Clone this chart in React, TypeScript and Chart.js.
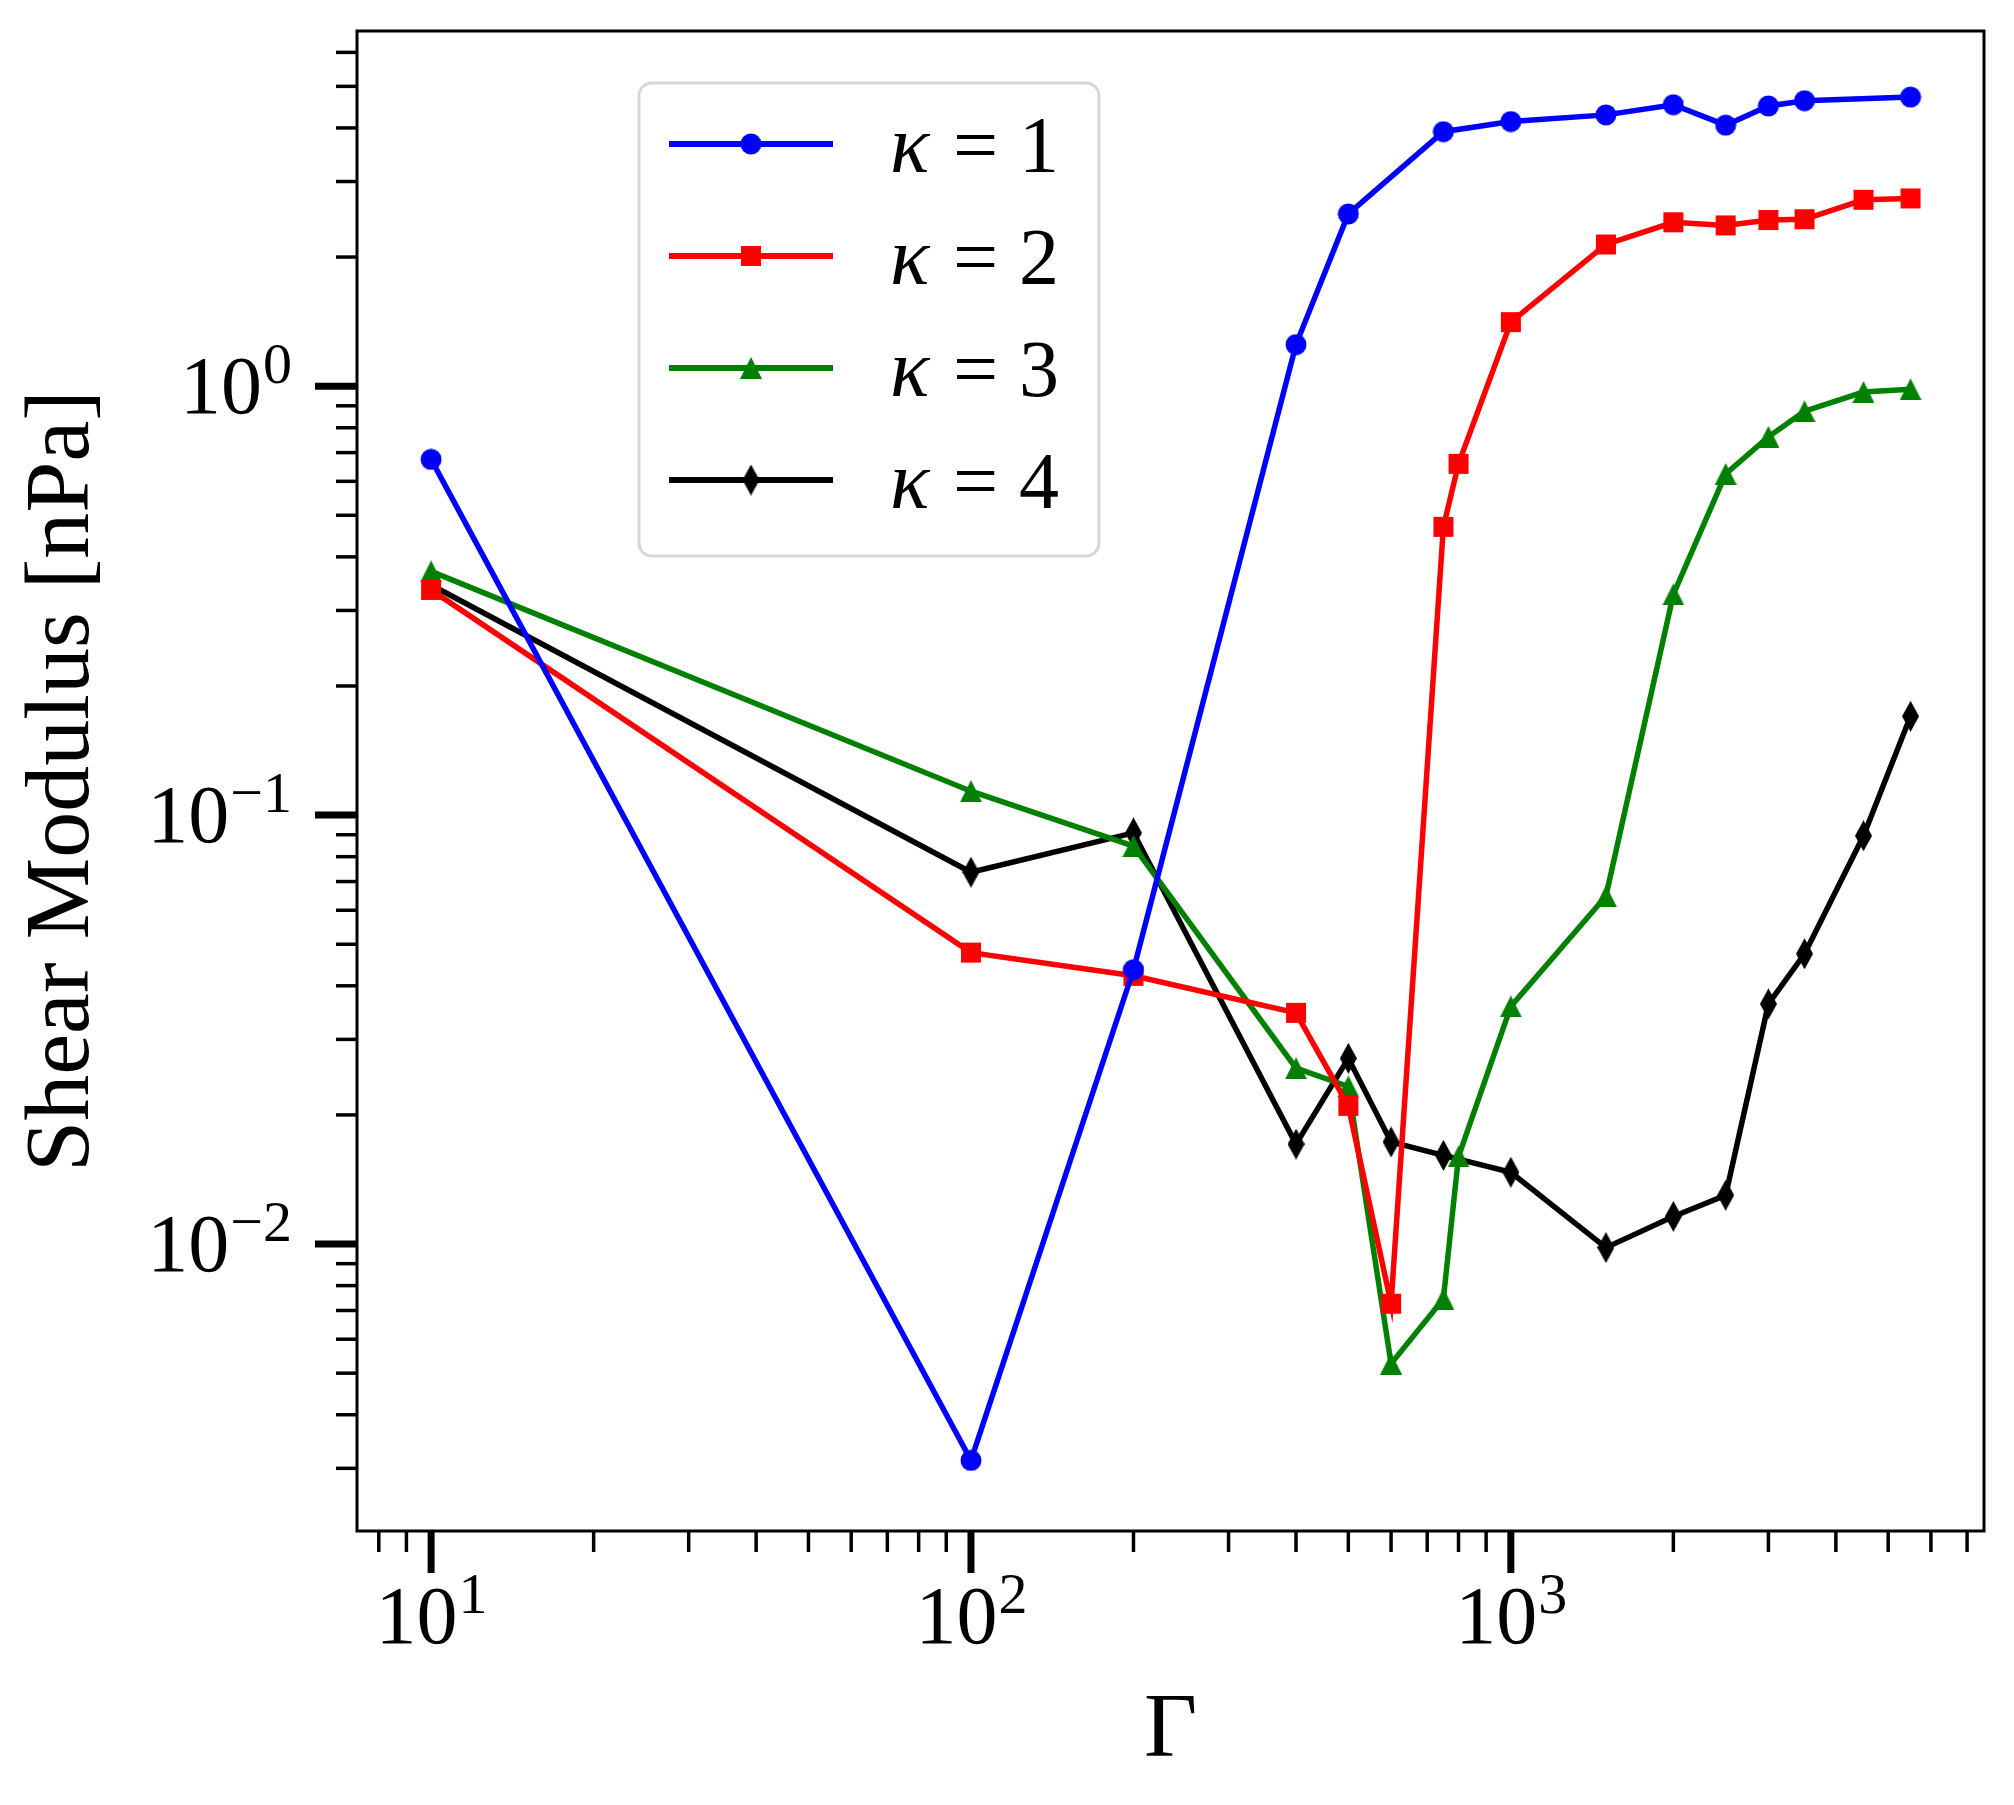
import { useEffect, useRef } from 'react';
import { Chart, registerables } from 'chart.js';

Chart.register(...registerables);

// Gamma values per series
const gammaK1 = [10, 100, 200, 400, 500, 750, 1000, 1500, 2000, 2500, 3000, 3500, 5500];
const gammaK2 = [10, 100, 200, 400, 500, 600, 750, 800, 1000, 1500, 2000, 2500, 3000, 3500, 4500, 5500];
const gammaK3 = [10, 100, 200, 400, 500, 600, 750, 800, 1000, 1500, 2000, 2500, 3000, 3500, 4500, 5500];
const gammaK4 = [10, 100, 200, 400, 500, 600, 750, 1000, 1500, 2000, 2500, 3000, 3500, 4500, 5500];

// shear modulus [nPa]
const modulusK1 = [0.675, 0.00313, 0.0436, 1.25, 2.52, 3.92, 4.14, 4.29, 4.53, 4.06, 4.5, 4.63, 4.72];
const modulusK2 = [0.335, 0.0478, 0.0422, 0.0346, 0.021, 0.00726, 0.47, 0.659, 1.41, 2.14, 2.41, 2.37, 2.44, 2.45, 2.72, 2.74];
const modulusK3 = [0.37, 0.1137, 0.0847, 0.0257, 0.0233, 0.00526, 0.00745, 0.016, 0.0358, 0.0647, 0.327, 0.624, 0.762, 0.874, 0.969, 0.983];
const modulusK4 = [0.344, 0.0736, 0.0909, 0.0171, 0.0271, 0.0173, 0.0161, 0.0147, 0.00981, 0.0116, 0.013, 0.0363, 0.0475, 0.0895, 0.17];

const seriesLabels = ['1', '2', '3', '4'];
const xMajorTicks = [10, 100, 1000];
const yMajorTicks = [0.01, 0.1, 1];

const X_MIN = 7.29;
const X_MAX = 7524;
const Y_MIN = 0.002143;
const Y_MAX = 6.73;

const FONT = "'Liberation Serif', 'Times New Roman', serif";

function makeMarker(shape: string, color: string): HTMLCanvasElement {
  const c = document.createElement('canvas');
  const w = shape === 'diamond' ? 17 : 22;
  const h = shape === 'diamond' ? 31 : 22;
  c.width = w;
  c.height = h;
  const ctx = c.getContext('2d')!;
  ctx.fillStyle = color;
  ctx.beginPath();
  if (shape === 'circle') {
    ctx.arc(w / 2, h / 2, 10.5, 0, Math.PI * 2);
  } else if (shape === 'square') {
    ctx.rect(1, 1, 20, 20);
  } else if (shape === 'triangle') {
    ctx.moveTo(w / 2, 0);
    ctx.lineTo(w, h);
    ctx.lineTo(0, h);
  } else {
    ctx.moveTo(w / 2, 0);
    ctx.lineTo(w, h / 2);
    ctx.lineTo(w / 2, h);
    ctx.lineTo(0, h / 2);
  }
  ctx.closePath();
  ctx.fill();
  return c;
}

function toPoints(xs: number[], ys: number[]) {
  return xs.map((x, i) => ({ x, y: ys[i] }));
}

function minorTicks(min: number, max: number) {
  const out: number[] = [];
  for (let e = Math.floor(Math.log10(min)); e <= Math.ceil(Math.log10(max)); e++) {
    for (let m = 2; m <= 9; m++) {
      const v = m * Math.pow(10, e);
      if (v >= min && v <= max) out.push(v);
    }
  }
  return out;
}

const axesPlugin = {
  id: 'mplAxes',
  afterDatasetsDraw(chart: any) {
    const { ctx, chartArea, scales } = chart;
    const { left, right, top, bottom } = chartArea;
    const xs = scales.x;
    const ys = scales.y;
    ctx.save();
    ctx.strokeStyle = '#000';
    ctx.fillStyle = '#000';

    // frame
    ctx.lineWidth = 3;
    ctx.strokeRect(left, top, right - left, bottom - top);

    // ticks
    const tick = (x1: number, y1: number, x2: number, y2: number, w: number) => {
      ctx.lineWidth = w;
      ctx.beginPath();
      ctx.moveTo(x1, y1);
      ctx.lineTo(x2, y2);
      ctx.stroke();
    };
    minorTicks(X_MIN, X_MAX).forEach((v) => {
      const px = xs.getPixelForValue(v);
      tick(px, bottom, px, bottom + 21, 3.5);
    });
    minorTicks(Y_MIN, Y_MAX).forEach((v) => {
      const py = ys.getPixelForValue(v);
      tick(left, py, left - 21, py, 3.5);
    });
    xMajorTicks.forEach((v) => {
      const px = xs.getPixelForValue(v);
      tick(px, bottom, px, bottom + 42, 7);
    });
    yMajorTicks.forEach((v) => {
      const py = ys.getPixelForValue(v);
      tick(left, py, left - 42, py, 7);
    });

    // tick labels 10^n
    const baseFont = `82px ${FONT}`;
    const supFont = `58px ${FONT}`;
    const expText = (v: number) => {
      const e = Math.round(Math.log10(v));
      return e < 0 ? '\u2212' + Math.abs(e) : String(e);
    };
    ctx.textBaseline = 'alphabetic';
    ctx.textAlign = 'left';
    xMajorTicks.forEach((v) => {
      const px = xs.getPixelForValue(v);
      ctx.font = baseFont;
      const w1 = ctx.measureText('10').width;
      ctx.font = supFont;
      const sup = expText(v);
      const w2 = ctx.measureText(sup).width;
      const x0 = px - (w1 + w2) / 2;
      const base = bottom + 112;
      ctx.font = baseFont;
      ctx.fillText('10', x0, base);
      ctx.font = supFont;
      ctx.fillText(sup, x0 + w1 + 1, base - 30);
    });
    yMajorTicks.forEach((v) => {
      const py = ys.getPixelForValue(v);
      ctx.font = baseFont;
      const w1 = ctx.measureText('10').width;
      ctx.font = supFont;
      const sup = expText(v);
      const w2 = ctx.measureText(sup).width;
      const x0 = left - 66 - (w1 + w2);
      const base = py + 27;
      ctx.font = baseFont;
      ctx.fillText('10', x0, base);
      ctx.font = supFont;
      ctx.fillText(sup, x0 + w1 + 1, base - 30);
    });

    // axis titles
    ctx.font = `92px ${FONT}`;
    ctx.textAlign = 'center';
    ctx.fillText('\u0393', (left + right) / 2, 1756);
    ctx.save();
    ctx.translate(88, (top + bottom) / 2);
    ctx.rotate(-Math.PI / 2);
    ctx.font = `92px ${FONT}`;
    ctx.fillText('Shear Modulus [nPa]', 0, 0);
    ctx.restore();

    // legend
    const lx = 639;
    const ly = 83;
    const lw = 460;
    const lh = 473;
    ctx.beginPath();
    ctx.roundRect(lx, ly, lw, lh, 13);
    ctx.fillStyle = 'rgba(255,255,255,0.8)';
    ctx.fill();
    ctx.lineWidth = 3;
    ctx.strokeStyle = '#d6d6d6';
    ctx.stroke();
    chart.data.datasets.forEach((ds: any, i: number) => {
      const rowY = 144 + i * 112;
      ctx.strokeStyle = ds.borderColor;
      ctx.lineWidth = 6;
      ctx.beginPath();
      ctx.moveTo(669, rowY);
      ctx.lineTo(833, rowY);
      ctx.stroke();
      const m = ds.pointStyle as HTMLCanvasElement;
      ctx.drawImage(m, 751 - m.width / 2, rowY - m.height / 2);
      ctx.fillStyle = '#000';
      ctx.textAlign = 'left';
      ctx.font = `italic 82px ${FONT}`;
      ctx.fillText('\u03BA', 890, rowY + 28);
      ctx.font = `80px ${FONT}`;
      ctx.fillText('=', 953, rowY + 28);
      ctx.fillText(seriesLabels[i], 1019, rowY + 28);
    });

    ctx.restore();
  },
};

export default function App() {
  const chartRef = useRef<HTMLCanvasElement>(null);
  const chartInstance = useRef<Chart | null>(null);

  useEffect(() => {
    if (!chartRef.current) return;
    if (chartInstance.current) chartInstance.current.destroy();

    const series = [
      { xs: gammaK1, ys: modulusK1, color: '#0000ff', marker: 'circle' },
      { xs: gammaK2, ys: modulusK2, color: '#ff0000', marker: 'square' },
      { xs: gammaK3, ys: modulusK3, color: '#008000', marker: 'triangle' },
      { xs: gammaK4, ys: modulusK4, color: '#000000', marker: 'diamond' },
    ];

    chartInstance.current = new Chart(chartRef.current, {
      type: 'line',
      data: {
        datasets: series.map((s, i) => ({
          label: '\u03BA = ' + seriesLabels[i],
          data: toPoints(s.xs, s.ys),
          borderColor: s.color,
          backgroundColor: s.color,
          borderWidth: 5.5,
          pointStyle: makeMarker(s.marker, s.color),
          pointRadius: 10,
          tension: 0,
          fill: false,
        })),
      },
      plugins: [axesPlugin],
      options: {
        animation: false,
        responsive: false,
        devicePixelRatio: 1,
        events: [],
        layout: { padding: { left: 357, top: 31, right: 30, bottom: 274 } },
        plugins: {
          legend: { display: false },
          tooltip: { enabled: false },
        },
        scales: {
          x: { type: 'logarithmic', display: false, min: X_MIN, max: X_MAX, bounds: 'data' },
          y: { type: 'logarithmic', display: false, min: Y_MIN, max: Y_MAX, bounds: 'data' },
        },
      } as any,
    });

    return () => {
      if (chartInstance.current) {
        chartInstance.current.destroy();
        chartInstance.current = null;
      }
    };
  }, []);

  return (
    <div style={{ position: 'absolute', left: 0, top: 0, width: 2014, height: 1805, background: '#fff' }}>
      <canvas ref={chartRef} width={2014} height={1805} style={{ width: 2014, height: 1805 }}></canvas>
    </div>
  );
}
